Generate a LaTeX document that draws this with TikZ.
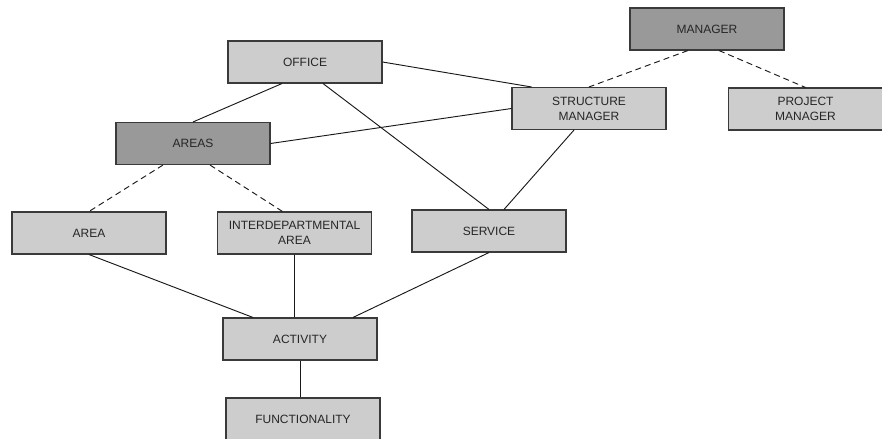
\documentclass[tikz,border=0pt]{standalone}
\usepackage{fontspec}
\setmainfont{Liberation Sans}
\usetikzlibrary{calc}

\definecolor{boxlight}{HTML}{CDCDCD}
\definecolor{boxdark}{HTML}{999999}
\definecolor{boxedge}{HTML}{3A3A3A}

\tikzset{
  entity/.style={draw=boxedge, line width=0.8pt, fill=boxlight, rectangle,
    minimum width=115.5pt, minimum height=31.5pt, inner sep=0pt,
    align=center, font=\fontsize{9}{11.25}\selectfont, text=black!85},
  group/.style={entity, fill=boxdark},
  link/.style={draw=black!90, line width=0.7pt},
  sublink/.style={link, dash pattern=on 4.5pt off 3pt}
}

\begin{document}
\begin{tikzpicture}[x=0.75pt, y=-0.75pt]
\useasboundingbox (0,0) rectangle (882,439);

% boxes
\node[group]  (manager)  at (707,29)    {MANAGER};
\node[entity] (project)  at (805.5,109) {PROJECT\\MANAGER};
\node[entity] (struct)   at (589,108.5) {STRUCTURE\\MANAGER};
\node[entity] (office)   at (305,62)    {OFFICE};
\node[group]  (areas)    at (193,143.5) {AREAS};
\node[entity] (area)     at (89,233)    {AREA};
\node[entity] (interdep) at (294.5,233) {INTERDEPARTMENTAL\\AREA};
\node[entity] (service)  at (489,231)   {SERVICE};
\node[entity] (activity) at (300,339)   {ACTIVITY};
\node[entity] (func)     at (303,419)   {FUNCTIONALITY};

% solid associations
\draw[link] ($(office.south)+(-23,0)$) -- (areas.north);
\draw[link] ($(office.south)+(18,0)$) -- (service.north);
\draw[link] (office.east) -- ($(struct.north west)+(20,0)$);
\draw[link] (areas.east) -- (struct.west);
\draw[link] ($(struct.south)+(-15,0)$) -- ($(service.north)+(15,0)$);
\draw[link] (area.south) -- ($(activity.north)+(-47,0)$);
\draw[link] (interdep.south) -- (interdep.south |- activity.north);
\draw[link] (service.south) -- ($(activity.north)+(53,0)$);
\draw[link] (activity.south) -- (activity.south |- func.north);

% dashed specialisations
\draw[sublink] ($(manager.south)+(-19,0)$) -- (struct.north);
\draw[sublink] ($(manager.south)+(12,0)$) -- (project.north);
\draw[sublink] ($(areas.south)+(-30,0)$) -- (area.north);
\draw[sublink] ($(areas.south)+(17,0)$) -- ($(interdep.north)+(-12,0)$);
\end{tikzpicture}
\end{document}
